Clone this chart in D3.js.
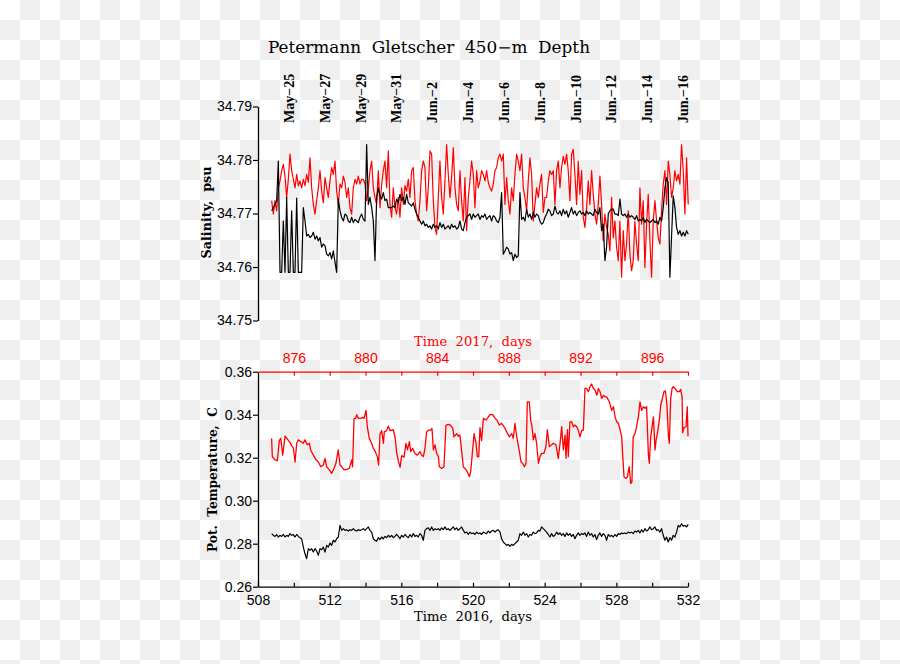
<!DOCTYPE html>
<html><head><meta charset="utf-8">
<script src="https://cdn.jsdelivr.net/npm/d3@7"></script>
<style>body{margin:0;background:#fff}svg{display:block}text{white-space:pre}</style>
</head><body><svg id="chart" width="900" height="664"></svg>
<script>
// ---------------- DATA ----------------
const titleText = "Petermann  Gletscher  450\u2212m  Depth";
const dateLabels = ["May\u221225","May\u221227","May\u221229","May\u221231","Jun.\u22122","Jun.\u22124","Jun.\u22126","Jun.\u22128","Jun.\u221210","Jun.\u221212","Jun.\u221214","Jun.\u221216"];
const dateDays2016 = [510,512,514,516,518,520,522,524,526,528,530,532];
const salTicks = [34.75,34.76,34.77,34.78,34.79];
const tempTicks = [0.26,0.28,0.30,0.32,0.34,0.36];
const days2016Ticks = [508,510,512,514,516,518,520,522,524,526,528,530,532];
const days2017Ticks = [874,876,878,880,882,884,886,888,890,892,894,896,898];

// regular sampling of the salinity / black temperature records
const gridStart2016 = 508.763;
const gridStart2017 = 874.763;
const gridStep = 0.093;

// salinity 2016 (black), psu
const sal2016 = [34.7705,34.7711,34.7717,34.7724,34.7798,34.7590,34.7590,34.7686,34.7590,34.7730,
34.7590,34.7590,34.7705,34.7590,34.7590,34.7729,34.7590,34.7590,34.7590,34.7711,
34.7686,34.7658,34.7661,34.7655,34.7658,34.7665,34.7652,34.7658,34.7649,34.7655,
34.7637,34.7643,34.7640,34.7624,34.7621,34.7627,34.7615,34.7630,34.7609,34.7590,
34.7727,34.7705,34.7693,34.7686,34.7699,34.7696,34.7686,34.7683,34.7693,34.7683,
34.7689,34.7686,34.7683,34.7693,34.7699,34.7689,34.7686,34.7829,34.7717,34.7730,
34.7711,34.7686,34.7612,34.7730,34.7748,34.7733,34.7727,34.7739,34.7724,34.7727,
34.7711,34.7711,34.7711,34.7714,34.7711,34.7727,34.7720,34.7736,34.7724,34.7730,
34.7717,34.7736,34.7720,34.7717,34.7714,34.7720,34.7708,34.7699,34.7693,34.7686,
34.7680,34.7686,34.7677,34.7680,34.7674,34.7677,34.7671,34.7680,34.7674,34.7677,
34.7671,34.7683,34.7674,34.7680,34.7671,34.7674,34.7677,34.7671,34.7680,34.7674,
34.7677,34.7671,34.7674,34.7686,34.7671,34.7668,34.7683,34.7693,34.7696,34.7699,
34.7689,34.7699,34.7693,34.7696,34.7699,34.7689,34.7696,34.7693,34.7699,34.7689,
34.7693,34.7696,34.7686,34.7696,34.7693,34.7686,34.7683,34.7693,34.7739,34.7624,
34.7630,34.7637,34.7634,34.7624,34.7627,34.7612,34.7624,34.7618,34.7621,34.7739,
34.7689,34.7693,34.7686,34.7708,34.7693,34.7699,34.7689,34.7702,34.7693,34.7699,
34.7696,34.7686,34.7680,34.7683,34.7693,34.7699,34.7708,34.7705,34.7696,34.7699,
34.7714,34.7702,34.7699,34.7705,34.7696,34.7708,34.7699,34.7705,34.7693,34.7702,
34.7711,34.7699,34.7705,34.7696,34.7702,34.7705,34.7699,34.7702,34.7696,34.7705,
34.7699,34.7702,34.7699,34.7696,34.7708,34.7702,34.7699,34.7711,34.7668,34.7680,
34.7612,34.7637,34.7699,34.7705,34.7708,34.7708,34.7699,34.7699,34.7696,34.7727,
34.7699,34.7696,34.7699,34.7693,34.7699,34.7693,34.7696,34.7693,34.7689,34.7696,
34.7686,34.7689,34.7686,34.7693,34.7683,34.7689,34.7686,34.7683,34.7686,34.7689,
34.7683,34.7686,34.7680,34.7693,34.7686,34.7711,34.7748,34.7767,34.7758,34.7581,
34.7658,34.7733,34.7711,34.7674,34.7661,34.7668,34.7658,34.7665,34.7658,34.7668,
34.7661];

// salinity 2017 (red), psu
const sal2017 = [34.7724,34.7699,34.7724,34.7705,34.7748,34.7761,34.7780,34.7792,34.7770,34.7730,
34.7764,34.7811,34.7780,34.7764,34.7748,34.7773,34.7752,34.7761,34.7748,34.7764,
34.7752,34.7773,34.7758,34.7804,34.7748,34.7717,34.7699,34.7724,34.7748,34.7780,
34.7742,34.7720,34.7767,34.7748,34.7730,34.7761,34.7786,34.7773,34.7798,34.7742,
34.7717,34.7755,34.7748,34.7770,34.7758,34.7730,34.7748,34.7711,34.7699,34.7748,
34.7764,34.7755,34.7770,34.7755,34.7764,34.7764,34.7755,34.7724,34.7748,34.7780,
34.7798,34.7748,34.7730,34.7717,34.7780,34.7711,34.7755,34.7780,34.7798,34.7748,
34.7817,34.7717,34.7693,34.7748,34.7711,34.7699,34.7730,34.7693,34.7748,34.7717,
34.7752,34.7742,34.7764,34.7730,34.7780,34.7786,34.7724,34.7699,34.7686,34.7724,
34.7780,34.7798,34.7786,34.7705,34.7748,34.7817,34.7811,34.7724,34.7674,34.7661,
34.7730,34.7798,34.7730,34.7699,34.7761,34.7829,34.7773,34.7730,34.7767,34.7823,
34.7748,34.7717,34.7705,34.7780,34.7724,34.7686,34.7767,34.7668,34.7730,34.7761,
34.7798,34.7773,34.7711,34.7780,34.7748,34.7761,34.7780,34.7773,34.7761,34.7780,
34.7758,34.7748,34.7742,34.7755,34.7780,34.7786,34.7804,34.7811,34.7798,34.7811,
34.7717,34.7767,34.7724,34.7699,34.7748,34.7724,34.7773,34.7811,34.7798,34.7780,
34.7811,34.7748,34.7730,34.7705,34.7761,34.7804,34.7773,34.7686,34.7717,34.7748,
34.7730,34.7755,34.7773,34.7702,34.7730,34.7730,34.7761,34.7780,34.7773,34.7780,
34.7717,34.7780,34.7798,34.7748,34.7786,34.7807,34.7792,34.7811,34.7780,34.7724,
34.7811,34.7820,34.7773,34.7717,34.7798,34.7736,34.7780,34.7693,34.7674,34.7711,
34.7761,34.7717,34.7780,34.7736,34.7699,34.7680,34.7717,34.7770,34.7717,34.7649,
34.7699,34.7674,34.7661,34.7630,34.7730,34.7655,34.7686,34.7637,34.7612,34.7686,
34.7581,34.7668,34.7612,34.7643,34.7705,34.7624,34.7593,34.7612,34.7686,34.7643,
34.7612,34.7748,34.7680,34.7724,34.7599,34.7680,34.7736,34.7649,34.7581,34.7686,
34.7724,34.7686,34.7655,34.7643,34.7705,34.7755,34.7780,34.7717,34.7798,34.7773,
34.7730,34.7748,34.7780,34.7761,34.7773,34.7755,34.7829,34.7780,34.7699,34.7804,
34.7717];

// potential temperature 2016 (black), C
const temp2016 = [0.2847,0.2839,0.2834,0.2842,0.2831,0.2839,0.2834,0.2843,0.2831,0.2839,
0.2834,0.2847,0.2839,0.2842,0.2831,0.2843,0.2834,0.2828,0.2823,0.2784,
0.2753,0.2730,0.2777,0.2769,0.2777,0.2761,0.2777,0.2766,0.2746,0.2777,
0.2772,0.2784,0.2761,0.2792,0.2784,0.2803,0.2792,0.2816,0.2808,0.2823,
0.2831,0.2885,0.2862,0.2870,0.2862,0.2865,0.2859,0.2865,0.2862,0.2870,
0.2862,0.2859,0.2865,0.2862,0.2865,0.2870,0.2862,0.2870,0.2878,0.2862,
0.2854,0.2823,0.2816,0.2812,0.2828,0.2819,0.2831,0.2823,0.2834,0.2828,
0.2839,0.2831,0.2839,0.2828,0.2834,0.2843,0.2834,0.2823,0.2839,0.2831,
0.2843,0.2834,0.2828,0.2843,0.2831,0.2847,0.2834,0.2839,0.2831,0.2847,
0.2839,0.2816,0.2862,0.2870,0.2874,0.2862,0.2878,0.2862,0.2870,0.2865,
0.2870,0.2862,0.2874,0.2865,0.2878,0.2865,0.2870,0.2862,0.2870,0.2878,
0.2865,0.2874,0.2862,0.2870,0.2878,0.2862,0.2850,0.2854,0.2843,0.2854,
0.2847,0.2850,0.2843,0.2854,0.2847,0.2850,0.2843,0.2854,0.2850,0.2847,
0.2859,0.2850,0.2859,0.2862,0.2854,0.2862,0.2865,0.2854,0.2823,0.2808,
0.2800,0.2792,0.2797,0.2788,0.2797,0.2792,0.2800,0.2808,0.2816,0.2847,
0.2839,0.2854,0.2839,0.2847,0.2831,0.2843,0.2839,0.2854,0.2847,0.2850,
0.2862,0.2859,0.2878,0.2870,0.2862,0.2854,0.2843,0.2831,0.2847,0.2834,
0.2839,0.2854,0.2843,0.2850,0.2839,0.2847,0.2834,0.2850,0.2839,0.2847,
0.2834,0.2843,0.2823,0.2839,0.2850,0.2839,0.2847,0.2843,0.2850,0.2834,
0.2854,0.2839,0.2847,0.2831,0.2843,0.2819,0.2839,0.2850,0.2834,0.2847,
0.2839,0.2816,0.2843,0.2834,0.2839,0.2831,0.2843,0.2834,0.2847,0.2843,
0.2850,0.2847,0.2850,0.2847,0.2854,0.2850,0.2854,0.2847,0.2859,0.2854,
0.2862,0.2850,0.2865,0.2854,0.2870,0.2859,0.2865,0.2878,0.2865,0.2870,
0.2878,0.2862,0.2865,0.2854,0.2870,0.2839,0.2816,0.2831,0.2808,0.2828,
0.2816,0.2839,0.2831,0.2854,0.2885,0.2878,0.2893,0.2881,0.2885,0.2878,
0.2890];

// potential temperature 2017 (red): days of 2017 and values, C
const temp2017Days = [874.76,874.80,874.95,875.08,875.19,875.27,875.38,875.51,875.64,875.79,875.88,875.97,876.07,876.16,876.25,876.38,876.53,876.62,876.75,876.87,
876.94,877.09,877.24,877.37,877.50,877.65,877.74,877.83,877.98,878.11,878.24,878.35,878.48,878.58,878.67,878.80,878.95,879.10,879.23,879.28,
879.36,879.45,879.51,879.60,879.73,879.84,879.92,880.03,880.10,880.21,880.34,880.44,880.55,880.66,880.73,880.81,880.90,881.00,881.05,881.18,
881.27,881.37,881.55,881.65,881.74,881.83,881.93,882.02,882.15,882.26,882.34,882.45,882.52,882.63,882.76,882.89,883.04,883.13,883.23,883.32,
883.41,883.51,883.64,883.71,883.79,883.88,883.97,884.07,884.12,884.25,884.38,884.49,884.62,884.75,884.87,884.94,885.09,885.18,885.27,885.37,
885.46,885.55,885.68,885.80,885.87,885.98,886.06,886.17,886.24,886.32,886.39,886.48,886.58,886.73,886.86,886.95,887.10,887.23,887.33,887.47,
887.60,887.73,887.88,888.03,888.16,888.25,888.34,888.44,888.59,888.68,888.77,888.87,888.96,889.03,889.14,889.22,889.29,889.37,889.46,889.55,
889.65,889.74,889.83,889.96,890.07,890.15,890.26,890.39,890.48,890.63,890.76,890.86,890.95,891.04,891.14,891.19,891.27,891.32,891.41,891.51,
891.60,891.69,891.79,891.88,891.97,892.07,892.16,892.25,892.34,892.44,892.53,892.62,892.72,892.81,892.91,893.00,893.09,893.18,893.28,893.37,
893.46,893.61,893.74,893.84,893.93,894.02,894.11,894.21,894.30,894.36,894.43,894.54,894.61,894.72,894.80,894.87,894.94,895.04,895.13,895.23,
895.32,895.41,895.51,895.60,895.69,895.79,895.84,895.92,895.97,896.07,896.16,896.22,896.29,896.40,896.48,896.59,896.67,896.74,896.82,896.91,
896.96,897.03,897.11,897.18,897.27,897.40,897.52,897.59,897.67,897.70,897.78,897.89,897.96,898.00];
const temp2017 = [0.3290,0.3205,0.3190,0.3186,0.3280,0.3290,0.3212,0.3300,0.3286,0.3270,0.3255,0.3247,0.3180,0.3267,0.3283,0.3275,0.3267,0.3283,0.3260,0.3267,
0.3236,0.3212,0.3190,0.3180,0.3158,0.3166,0.3197,0.3158,0.3143,0.3127,0.3150,0.3174,0.3236,0.3166,0.3158,0.3143,0.3146,0.3150,0.3190,0.3158,
0.3383,0.3383,0.3400,0.3383,0.3383,0.3388,0.3383,0.3420,0.3345,0.3290,0.3267,0.3243,0.3228,0.3205,0.3166,0.3310,0.3326,0.3267,0.3320,0.3326,
0.3347,0.3326,0.3330,0.3295,0.3224,0.3186,0.3155,0.3210,0.3202,0.3267,0.3236,0.3275,0.3228,0.3243,0.3220,0.3212,0.3228,0.3212,0.3205,0.3243,
0.3320,0.3328,0.3328,0.3336,0.3236,0.3260,0.3220,0.3205,0.3158,0.3150,0.3158,0.3350,0.3355,0.3350,0.3336,0.3297,0.3312,0.3300,0.3305,0.3228,
0.3158,0.3150,0.3135,0.3112,0.3135,0.3236,0.3312,0.3267,0.3205,0.3205,0.3340,0.3280,0.3383,0.3375,0.3390,0.3400,0.3400,0.3383,0.3375,0.3352,
0.3360,0.3345,0.3320,0.3297,0.3312,0.3290,0.3360,0.3297,0.3228,0.3180,0.3174,0.3158,0.3174,0.3460,0.3460,0.3375,0.3345,0.3283,0.3312,0.3267,
0.3174,0.3205,0.3220,0.3220,0.3252,0.3330,0.3252,0.3260,0.3267,0.3260,0.3197,0.3267,0.3344,0.3236,0.3305,0.3197,0.3330,0.3205,0.3367,0.3367,
0.3344,0.3352,0.3344,0.3328,0.3297,0.3328,0.3328,0.3522,0.3522,0.3507,0.3530,0.3543,0.3522,0.3515,0.3490,0.3522,0.3507,0.3476,0.3490,0.3483,
0.3483,0.3460,0.3420,0.3437,0.3390,0.3367,0.3360,0.3330,0.3297,0.3205,0.3110,0.3104,0.3110,0.3158,0.3080,0.3088,0.3297,0.3312,0.3344,0.3390,
0.3460,0.3420,0.3437,0.3430,0.3437,0.3212,0.3174,0.3297,0.3328,0.3390,0.3236,0.3283,0.3312,0.3375,0.3445,0.3483,0.3510,0.3510,0.3450,0.3297,
0.3267,0.3470,0.3522,0.3530,0.3522,0.3507,0.3507,0.3518,0.3483,0.3316,0.3340,0.3344,0.3437,0.3300];

// ---------------- DRAWING ----------------
const svg = d3.select("#chart");
const RED = "#ff0000";
const SERIF = "'DejaVu Serif', serif";
const SANS = "'Liberation Sans', Arial, sans-serif";

// checkered background
const defs = svg.append("defs");
const pat = defs.append("pattern").attr("id","cb").attr("width",40).attr("height",40)
  .attr("patternUnits","userSpaceOnUse");
pat.append("rect").attr("width",40).attr("height",40).attr("fill","#ffffff");
pat.append("rect").attr("x",20).attr("y",0).attr("width",20).attr("height",20).attr("fill","#efefef");
pat.append("rect").attr("x",0).attr("y",20).attr("width",20).attr("height",20).attr("fill","#efefef");
svg.append("rect").attr("width",900).attr("height",664).attr("fill","url(#cb)");

// scales
const L = 258, R = 688;
const x16 = d3.scaleLinear().domain([508,532]).range([L,R]);
const x17 = d3.scaleLinear().domain([874,898]).range([L,R]);
const ySal = d3.scaleLinear().domain([34.75,34.79]).range([320.5,106.5]);
const yTemp = d3.scaleLinear().domain([0.26,0.36]).range([586.7,371.7]);

// series objects
const grid = (arr, t0) => arr.map((v,i) => ({t: t0 + i*gridStep, v}));
const salBlack = grid(sal2016, gridStart2016);
const salRed = grid(sal2017, gridStart2017);
const tempBlack = grid(temp2016, gridStart2016);
const tempRed = temp2017Days.map((t,i) => ({t, v: temp2017[i]}));

// title
svg.append("text").attr("x",268).attr("y",53).attr("textLength",322).attr("lengthAdjust","spacingAndGlyphs")
  .attr("font-family",SERIF).attr("font-size",16).attr("fill","#000").text(titleText);

// date labels (top)
svg.append("g").selectAll("text").data(dateLabels).join("text")
  .attr("transform",(d,i)=>`translate(${x16(dateDays2016[i])},123) rotate(-90)`)
  .attr("text-anchor","start").attr("font-family","'Liberation Serif', serif").attr("font-weight","bold")
  .attr("font-size",14).attr("fill","#000").text(d=>d);

function styleAxis(g, color, font){
  g.select(".domain").attr("stroke",color).attr("stroke-width",1.3);
  g.selectAll(".tick line").attr("stroke",color).attr("stroke-width",1.2);
  g.selectAll(".tick text").attr("fill",color).attr("font-family",font).attr("font-size",14);
}

// salinity axis
const gSal = svg.append("g").attr("transform",`translate(${L},0)`)
  .call(d3.axisLeft(ySal).tickValues(salTicks).tickFormat(d3.format(".2f")).tickSizeInner(5).tickSizeOuter(0).tickPadding(1));
styleAxis(gSal,"#000",SANS);

// temperature axis
const gT = svg.append("g").attr("transform",`translate(${L},0)`)
  .call(d3.axisLeft(yTemp).tickValues(tempTicks).tickFormat(d3.format(".2f")).tickSizeInner(5).tickSizeOuter(0).tickPadding(1));
styleAxis(gT,"#000",SANS);

// bottom 2016 axis
const gB = svg.append("g").attr("transform",`translate(0,${yTemp(0.26)})`)
  .call(d3.axisBottom(x16).tickValues(days2016Ticks).tickFormat(d => d % 4 === 0 ? d : "")
    .tickSizeInner(-4).tickSizeOuter(0).tickPadding(8));
styleAxis(gB,"#000",SANS);

// top 2017 axis (red)
const gTop = svg.append("g").attr("transform",`translate(0,${yTemp(0.36)})`)
  .call(d3.axisTop(x17).tickValues(days2017Ticks).tickFormat(d => d % 4 === 0 ? d : "")
    .tickSizeInner(-4).tickSizeOuter(0).tickPadding(9));
styleAxis(gTop,RED,SANS);
gTop.selectAll(".tick").filter(d => d === 874).select("line").remove();

// axis titles
svg.append("text").attr("x",473).attr("y",620.5).attr("text-anchor","middle").attr("textLength",118)
  .attr("lengthAdjust","spacingAndGlyphs").attr("font-family",SERIF).attr("font-size",12.5).attr("fill","#000")
  .text("Time  2016,  days");
svg.append("text").attr("x",473).attr("y",345.5).attr("text-anchor","middle").attr("textLength",118)
  .attr("lengthAdjust","spacingAndGlyphs").attr("font-family",SERIF).attr("font-size",12.5).attr("fill",RED)
  .text("Time  2017,  days");
svg.append("text").attr("transform","translate(211,212.5) rotate(-90)").attr("text-anchor","middle")
  .attr("textLength",92).attr("lengthAdjust","spacingAndGlyphs").attr("font-family",SERIF).attr("font-weight","bold")
  .attr("font-size",12.5).attr("fill","#000").text("Salinity,  psu");
svg.append("text").attr("transform","translate(217,479.5) rotate(-90)").attr("text-anchor","middle")
  .attr("textLength",145).attr("lengthAdjust","spacingAndGlyphs").attr("font-family",SERIF).attr("font-weight","bold")
  .attr("font-size",12.5).attr("fill","#000").text("Pot.  Temperature,  C");

// lines
const lineS16 = d3.line().x(d=>x16(d.t)).y(d=>ySal(d.v));
const lineS17 = d3.line().x(d=>x17(d.t)).y(d=>ySal(d.v));
const lineT16 = d3.line().x(d=>x16(d.t)).y(d=>yTemp(d.v));
const lineT17 = d3.line().x(d=>x17(d.t)).y(d=>yTemp(d.v));

svg.append("path").datum(salRed).attr("d",lineS17).attr("fill","none").attr("stroke",RED).attr("stroke-width",1.2).attr("stroke-linejoin","round");
svg.append("path").datum(salBlack).attr("d",lineS16).attr("fill","none").attr("stroke","#000").attr("stroke-width",1.2).attr("stroke-linejoin","round");
svg.append("path").datum(tempRed).attr("d",lineT17).attr("fill","none").attr("stroke",RED).attr("stroke-width",1.3).attr("stroke-linejoin","round");
svg.append("path").datum(tempBlack).attr("d",lineT16).attr("fill","none").attr("stroke","#000").attr("stroke-width",1.2).attr("stroke-linejoin","round");
</script>
</body></html>
